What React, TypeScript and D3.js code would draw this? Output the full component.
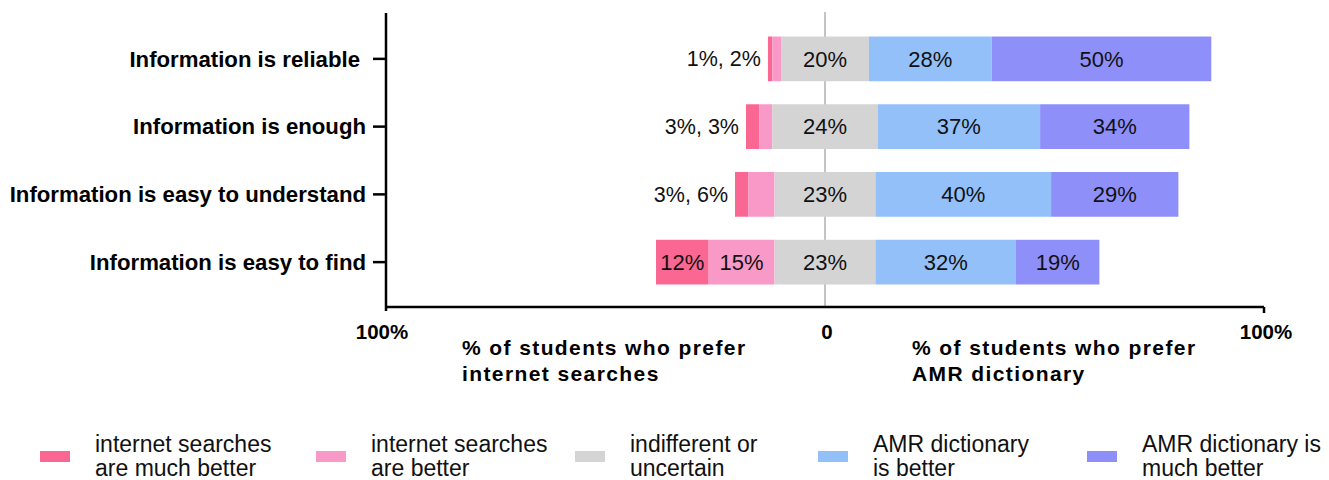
import React, { useEffect } from 'react';
import * as d3 from 'd3';

// categories, top to bottom
const categories = [
  'Information is reliable',
  'Information is enough',
  'Information is easy to understand',
  'Information is easy to find',
];

// % of students per answer
const internetMuchBetter = [1, 3, 3, 12];
const internetBetter = [2, 3, 6, 15];
const indifferent = [20, 24, 23, 23];
const amrBetter = [28, 37, 40, 32];
const amrMuchBetter = [50, 34, 29, 19];

const seriesNames = [
  ['internet searches', 'are much better'],
  ['internet searches', 'are better'],
  ['indifferent or', 'uncertain'],
  ['AMR dictionary', 'is better'],
  ['AMR dictionary is', 'much better'],
];
const colors = ['#fa6792', '#f899c8', '#d4d4d4', '#93c0f8', '#8f8ff9'];

const xTicks = [-100, 0, 100];
const tickLabel = (v: number) => (v === 0 ? '0' : '100%');

const FONT = '"Liberation Sans", Arial, sans-serif';

const App = () => {
  useEffect(() => {
    document.body.style.margin = '0';
  }, []);

  const width = 1329;
  const height = 480;

  const x = d3.scaleLinear().domain([-100, 100]).range([386, 1264]);
  const y = d3
    .scaleBand()
    .domain(categories)
    .range([25, 296])
    .paddingInner(0.34)
    .paddingOuter(0.17);

  // build segments: start from the left end of the diverging stack
  const rows = categories.map((c, i) => {
    const vals = [internetMuchBetter[i], internetBetter[i], indifferent[i], amrBetter[i], amrMuchBetter[i]];
    let start = -(vals[0] + vals[1] + vals[2] / 2);
    const segs = vals.map((v, k) => {
      const s = { k, x0: start, x1: start + v, v };
      start += v;
      return s;
    });
    return { c, i, segs };
  });

  const baseY = 307;
  const legendX = [40, 316, 575, 818, 1087];

  return (
    <svg width={width} height={height} style={{ display: 'block', fontFamily: FONT }}>
      {/* zero line */}
      <line x1={x(0)} x2={x(0)} y1={12} y2={baseY} stroke="#888" strokeWidth={1} />

      {rows.map((r) => {
        const yy = y(r.c)!;
        const bh = y.bandwidth();
        const cy = yy + bh / 2;
        const inside = r.segs[0].v >= 8;
        return (
          <g key={r.c}>
            {r.segs.map((s) => (
              <rect
                key={s.k}
                x={x(s.x0)}
                y={yy}
                width={x(s.x1) - x(s.x0)}
                height={bh}
                fill={colors[s.k]}
              />
            ))}
            {r.segs.map((s) => {
              if (s.k < 2 && !inside) return null;
              return (
                <text
                  key={'t' + s.k}
                  x={(x(s.x0) + x(s.x1)) / 2}
                  y={cy}
                  dy="0.35em"
                  textAnchor="middle"
                  fontSize={22}
                  fill="#111"
                >
                  {s.v}%
                </text>
              );
            })}
            {!inside && (
              <text
                x={x(r.segs[0].x0) - 7}
                y={cy}
                dy="0.35em"
                textAnchor="end"
                fontSize={21.5}
                fill="#111"
              >
                {r.segs[0].v}%, {r.segs[1].v}%
              </text>
            )}
            {/* category label + tick */}
            <line x1={373} x2={386} y1={cy} y2={cy} stroke="#000" strokeWidth={2.5} />
            <text
              x={r.i === 0 ? 360 : 366}
              y={cy}
              dy="0.35em"
              textAnchor="end"
              fontSize={22.2}
              fontWeight="bold"
              fill="#000"
            >
              {r.c}
            </text>
          </g>
        );
      })}

      {/* axes */}
      <line x1={386} x2={386} y1={13} y2={311} stroke="#000" strokeWidth={2.5} />
      <line x1={386} x2={1264} y1={baseY} y2={baseY} stroke="#000" strokeWidth={2.5} />
      <line x1={1264} x2={1264} y1={baseY} y2={313} stroke="#000" strokeWidth={2.5} />

      {xTicks.map((t) => (
        <text
          key={t}
          x={t === -100 ? x(t) - 4 : x(t) + 2}
          y={339}
          textAnchor="middle"
          fontSize={20.5}
          fontWeight="bold"
        >
          {tickLabel(t)}
        </text>
      ))}

      <text x={462} y={355} fontSize={21} fontWeight="bold" letterSpacing={1.4}>
        <tspan x={462}>% of students who prefer</tspan>
        <tspan x={462} dy={26}>internet searches</tspan>
      </text>
      <text x={912} y={355} fontSize={21} fontWeight="bold" letterSpacing={1.4}>
        <tspan x={912}>% of students who prefer</tspan>
        <tspan x={912} dy={26}>AMR dictionary</tspan>
      </text>

      {/* legend */}
      {seriesNames.map((n, k) => (
        <g key={k} transform={`translate(${legendX[k]},0)`}>
          <rect x={0} y={451} width={30} height={11} fill={colors[k]} />
          <text x={55} y={452} fontSize={23} fill="#111">
            <tspan x={55}>{n[0]}</tspan>
            <tspan x={55} dy={24}>{n[1]}</tspan>
          </text>
        </g>
      ))}
    </svg>
  );
};

export default App;
